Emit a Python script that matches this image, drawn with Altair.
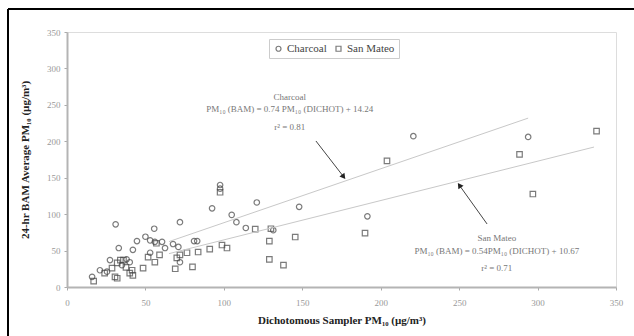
import altair as alt
import pandas as pd

# Charcoal site (circles)
char_x = [16, 21, 25.5, 27.4, 31, 33, 35, 38, 40, 42, 44.6, 50, 55.6, 53, 60.6, 62.5, 67.6,
          72, 71, 72, 81, 83, 92.5, 97.6, 97.6, 105, 108, 114, 121, 131.5, 148, 220.8, 294, 191.5, 56, 53]
char_y = [14, 23, 21, 37, 86, 53.5, 30, 38, 34, 51, 63, 69, 80, 64, 62, 53.5, 59,
          89, 55, 34, 63, 63, 108, 140, 135, 99, 89, 81, 116, 78, 110, 207, 206, 97, 62, 47]

# San Mateo site (squares)
sm_x = [17, 24, 28.7, 32, 34, 36, 37.6, 40, 41.5, 42, 48.5, 51.7, 56, 57, 69, 70, 72, 76.5,
        80, 83.6, 91, 97.6, 98.8, 102, 120, 129, 129, 130, 138, 145.5, 204, 288.5, 337.6,
        297, 190, 30.6, 32, 59]
sm_y = [8, 19, 26, 33, 37, 37, 27, 19, 23, 16, 26, 41, 34, 60, 25, 40, 44, 47,
        27.6, 48, 52, 130, 57.6, 53.5, 79.5, 63, 38, 80, 30, 68.6, 173, 182, 214,
        127.6, 74, 14, 12, 44]

sites = ["Charcoal", "San Mateo"]
fit_slope = [0.74, 0.54]
fit_intercept = [14.24, 10.67]
fit_x_start = [65, 65]
fit_x_end = [294, 336]

x_ticks = [0, 50, 100, 150, 200, 250, 300, 350]
y_ticks = [0, 50, 100, 150, 200, 250, 300, 350]

pts = pd.DataFrame({
    "x": char_x + sm_x,
    "y": char_y + sm_y,
    "site": ["Charcoal"] * len(char_x) + ["San Mateo"] * len(sm_x),
})

fits = pd.DataFrame({
    "site": sites + sites,
    "x": fit_x_start + fit_x_end,
    "slope": fit_slope + fit_slope,
    "icpt": fit_intercept + fit_intercept,
})

FONT = "Liberation Serif"
W, H = 549, 255

xs = alt.Scale(domain=[0, 350], nice=False)
ys = alt.Scale(domain=[0, 350], nice=False)

xax = alt.Axis(values=x_ticks, title="Dichotomous Sampler PM₁₀ (µg/m³)", grid=False,
               labelFont=FONT, labelFontSize=9, labelColor="#999", tickColor="#aaa",
               tickSize=3, domainColor="#b4b4b4", domainWidth=2, labelPadding=8,
               labelOverlap=False, labelFlush=False,
               titleFont=FONT, titleFontSize=11, titleFontWeight="bold", titleColor="#222",
               titlePadding=7)
yax = alt.Axis(values=y_ticks, title="24-hr BAM Average PM₁₀ (µg/m³)", grid=False,
               labelFont=FONT, labelFontSize=9, labelColor="#999", tickColor="#aaa",
               tickSize=3, domainColor="#b4b4b4", domainWidth=2, labelPadding=4,
               labelOverlap=False, labelFlush=False,
               titleFont=FONT, titleFontSize=11, titleFontWeight="bold", titleColor="#222",
               titlePadding=16)

points = alt.Chart(pts).mark_point(filled=False, size=30, strokeWidth=1.2, color="#444").encode(
    x=alt.X("x:Q", scale=xs, axis=xax),
    y=alt.Y("y:Q", scale=ys, axis=yax),
    shape=alt.Shape("site:N", scale=alt.Scale(domain=sites, range=["circle", "square"]),
                    legend=alt.Legend(title=None, orient="none", legendX=202, legendY=7,
                                      direction="horizontal", strokeColor="#ccc",
                                      padding=4, labelFont=FONT, labelFontSize=11,
                                      labelColor="#444", symbolSize=25,
                                      symbolStrokeColor="#444", symbolStrokeWidth=1.2,
                                      labelOffset=3, columnPadding=6)),
)

lines = alt.Chart(fits).transform_calculate(
    yy="datum.slope * datum.x + datum.icpt"
).mark_line(color="#c8c8c8", strokeWidth=1).encode(
    x=alt.X("x:Q", scale=xs, axis=xax),
    y=alt.Y("yy:Q", scale=ys, axis=yax),
    detail="site:N",
)

def txt(s, x, y, size=9):
    return alt.Chart(pd.DataFrame({"t": [s]})).mark_text(
        font=FONT, fontSize=size, color="#777", align="center", baseline="middle"
    ).encode(x=alt.X(datum=x, scale=xs, axis=xax),
             y=alt.Y(datum=y, scale=ys, axis=yax), text="t:N")

ann = [
    txt("Charcoal", 142, 261),
    txt("PM₁₀ (BAM) = 0.74 PM₁₀ (DICHOT) + 14.24", 142, 244),
    txt("r² = 0.81", 142, 219.5),
    txt("San Mateo", 274, 67.3),
    txt("PM₁₀ (BAM) = 0.54PM₁₀ (DICHOT) + 10.67", 274, 49.4),
    txt("r² = 0.71", 274, 26),
]

def arrow(x1, y1, x2, y2, ang):
    d = pd.DataFrame({"a": [0]})
    r = alt.Chart(d).mark_rule(color="#444", strokeWidth=1).encode(
        x=alt.X(datum=x1, scale=xs, axis=xax), y=alt.Y(datum=y1, scale=ys, axis=yax),
        x2=alt.datum(x2), y2=alt.datum(y2))
    h = alt.Chart(d).mark_point(shape="triangle", filled=True, size=40, color="#222",
                                angle=ang, opacity=1).encode(
        x=alt.X(datum=x2, scale=xs, axis=xax), y=alt.Y(datum=y2, scale=ys, axis=yax))
    return [r, h]

arrows = arrow(158.7, 200.4, 176, 152.3, 142) + arrow(267.8, 86.5, 250.5, 138.6, 325)

one = pd.DataFrame({"a": [0]})
frame_top = alt.Chart(one).mark_rule(color="#000", strokeWidth=2).encode(
    x=alt.value(-59), x2=alt.value(W + 30), y=alt.value(-23))
frame_left = alt.Chart(one).mark_rule(color="#000", strokeWidth=2).encode(
    x=alt.value(-59), y=alt.value(-23), y2=alt.value(H + 60))

chart = alt.layer(points, lines, *ann, *arrows, frame_top, frame_left).properties(
    width=W, height=H,
    autosize=alt.AutoSizeParams(type="none"),
    padding={"left": 67, "top": 32, "right": 18, "bottom": 49},
).configure_view(stroke="#bbb", strokeWidth=1.5).configure(
    background="white", font=FONT
).configure_legend(labelFont=FONT).configure_axis(labelFont=FONT, labelOverlap=False)

chart.save("out.html", embed_options={"renderer": "svg", "actions": False})
